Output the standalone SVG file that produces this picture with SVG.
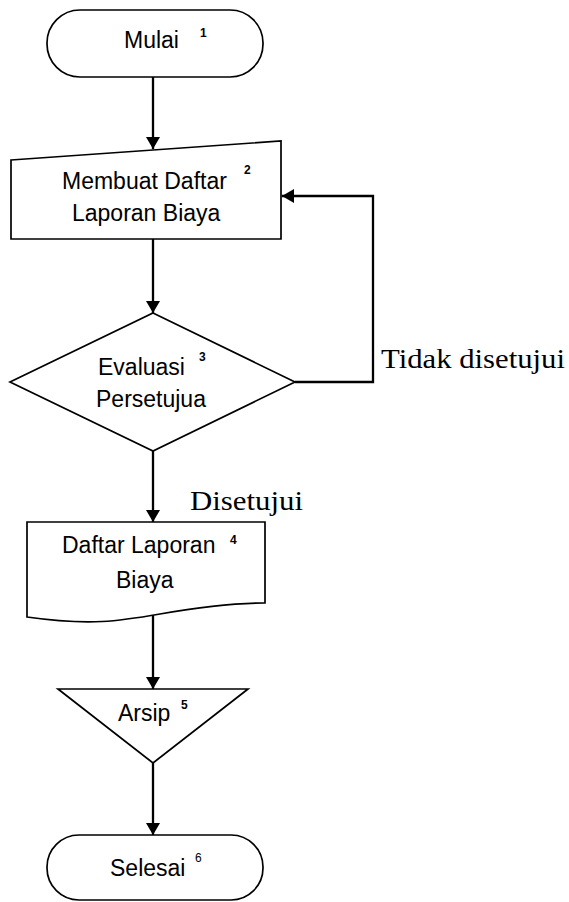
<svg xmlns="http://www.w3.org/2000/svg" width="569" height="902" viewBox="0 0 569 902">
<style>
.shape{fill:#fff;stroke:#000;stroke-width:1.7}
.conn{fill:none;stroke:#000;stroke-width:2.3}
.t{font-family:"Liberation Sans",Arial,sans-serif;font-size:23px;fill:#000}
.sup{font-family:"Liberation Sans",Arial,sans-serif;font-size:12px;font-weight:bold;fill:#000}
.lbl{font-family:"Liberation Serif","Times New Roman",serif;font-size:27px;fill:#000}
</style>
<defs>
<marker id="arr" viewBox="0 0 12 14" refX="12" refY="7" markerWidth="12" markerHeight="14" markerUnits="userSpaceOnUse" orient="auto">
<path d="M0,0 L12,7 L0,14 Z" fill="#000"/>
</marker>
</defs>
<g id="connectors">
<line class="conn" x1="153" y1="77" x2="153" y2="149" marker-end="url(#arr)"/>
<line class="conn" x1="153" y1="239" x2="153" y2="313" marker-end="url(#arr)"/>
<polyline class="conn" points="295,382 373,382 373,196 282,196" marker-end="url(#arr)"/>
<line class="conn" x1="153" y1="451" x2="153" y2="522" marker-end="url(#arr)"/>
<line class="conn" x1="153" y1="614" x2="153" y2="689" marker-end="url(#arr)"/>
<line class="conn" x1="153" y1="763" x2="153" y2="835" marker-end="url(#arr)"/>
<text class="lbl" x="381" y="368" textLength="184" lengthAdjust="spacingAndGlyphs">Tidak disetujui</text>
<text class="lbl" x="190" y="510" textLength="113" lengthAdjust="spacingAndGlyphs">Disetujui</text>
</g>
<g id="n1">
<rect class="shape" x="47" y="10" width="216" height="67" rx="33" ry="33"/>
<text class="t" x="124" y="48">Mulai</text>
<text class="sup" x="200" y="37">1</text>
</g>
<g id="n2">
<polygon class="shape" points="11,160 281,141 281,239 11,239"/>
<text class="t" x="62" y="189">Membuat Daftar</text>
<text class="sup" x="244" y="174">2</text>
<text class="t" x="72" y="221">Laporan Biaya</text>
</g>
<g id="n3">
<polygon class="shape" points="153,313 295,382 153,451 10,382"/>
<text class="t" x="98" y="375">Evaluasi</text>
<text class="sup" x="199" y="361">3</text>
<text class="t" x="96" y="407">Persetujua</text>
</g>
<g id="n4">
<path class="shape" d="M27,522 L265,522 L265,603 C230,603 200,607 160,614 C120,621 90,626 27,617 Z"/>
<text class="t" x="62" y="553">Daftar Laporan</text>
<text class="sup" x="230" y="544">4</text>
<text class="t" x="116" y="588">Biaya</text>
</g>
<g id="n5">
<polygon class="shape" points="58,689 248,689 153,763"/>
<text class="t" x="118" y="721">Arsip</text>
<text class="sup" x="181" y="709">5</text>
</g>
<g id="n6">
<rect class="shape" x="47" y="835" width="216" height="65" rx="32" ry="32"/>
<text class="t" x="110" y="876">Selesai</text>
<text class="t" x="195" y="862" style="font-size:12px">6</text>
</g>
</svg>
